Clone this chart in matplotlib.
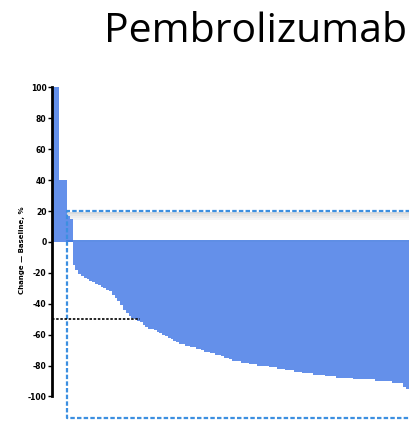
import numpy as np
import matplotlib.pyplot as plt

# =============================================================================
# Data: best % change from baseline, one bar per patient (sorted waterfall)

pos_vals = [100, 100, 40, 40, 40, 17, 15]
neg_vals = [
    -15, -18, -21, -22, -23, -24, -25, -26, -27, -28,
    -29, -30, -31, -32, -34, -36, -38, -41, -44, -46,
    -48, -49, -50, -51, -52, -54, -55, -56, -56, -57,
    -58, -59, -60, -61, -62, -63, -64, -65, -66, -66,
    -67, -67, -68, -68, -69, -69, -70, -71, -71, -72,
    -72, -73, -73, -74, -75, -75, -76, -77, -77, -77,
    -78, -78, -78, -79, -79, -79, -80, -80, -80, -80,
    -81, -81, -81, -82, -82, -82, -83, -83, -83, -84,
    -84, -84, -85, -85, -85, -85, -86, -86, -86, -86,
    -87, -87, -87, -87, -88, -88, -88, -88, -88, -88,
    -89, -89, -89, -89, -89, -89, -89, -89, -90, -90,
    -90, -90, -90, -90, -91, -91, -91, -91, -94, -95,
    -96,
]
values = pos_vals + neg_vals
yticks = [-100, -80, -60, -40, -20, 0, 20, 40, 60, 80, 100]

BLUE = "#6490ea"
DASH_BLUE = "#3c8fe0"

# =============================================================================
# Plot

fg = plt.figure(figsize=(4.10, 4.24), dpi=100)
ax = fg.add_axes([52 / 410, 0, 1 - 52 / 410, (424 - 70) / 424])

x = np.arange(len(values))
ax.bar(x, values, width=1.0, color=BLUE, edgecolor="none", zorder=2)
ax.plot([4.5, 135], [0.6, 0.6], color="#3f78e0", lw=1.2, zorder=3)

# Dashed box around the responders region, with a soft shadow under the top
for k, c in enumerate(["#dcdcdc", "#e6e6e6", "#eeeeee", "#f5f5f5"]):
    ax.fill_between([4.5, 135], 19.4 - 1.3 * (k + 1), 19.4 - 1.3 * k,
                    color=c, zorder=1, lw=0)
box_x = [135, 4.5, 4.5, 135]
box_y = [20, 20, -114, -114]
ax.plot(box_x, box_y, color=DASH_BLUE, lw=1.6, ls=(0, (2, 1)), zorder=4)

# -50% reference line
ax.plot([-0.9, 30.6], [-50, -50], color="k", lw=1.2, ls=(0, (1.5, 1)), zorder=5)

ax.set_xlim(-0.86, 127)
ax.set_ylim(-117.8, 111.3)
ax.set_yticks(yticks)
ax.set_yticklabels([str(t) for t in yticks], fontsize=5.5, fontweight="bold")
ax.set_xticks([])
for s in ["top", "right", "bottom"]:
    ax.spines[s].set_visible(False)
ax.spines["left"].set_bounds(-100, 100)
ax.spines["left"].set_linewidth(2)
ax.tick_params(axis="y", direction="out", length=3, width=1, pad=1)
ax.set_ylabel("Change — Baseline, %", fontsize=5, fontweight="bold", labelpad=3)
ax.yaxis.set_label_coords(-0.075, 0.49)

fg.text(256 / 410, 1 - 42 / 424, "Pembrolizumab", ha="center", va="baseline",
        fontsize=29.5, family="Open Sans")

fg.savefig("out.png", dpi=100)
